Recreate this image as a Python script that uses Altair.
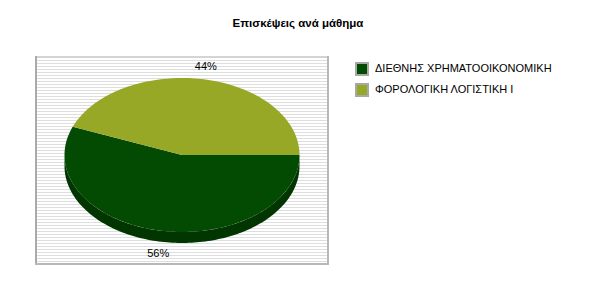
import math
import numpy as np
import pandas as pd
import altair as alt

# ---- data ----
title_text = "Επισκέψεις ανά μάθημα"
categories = ["ΔΙΕΘΝΗΣ ΧΡΗΜΑΤΟΟΙΚΟΝΟΜΙΚΗ", "ΦΟΡΟΛΟΓΙΚΗ ΛΟΓΙΣΤΙΚΗ Ι"]
visits = [56, 44]
face_colors = ["#034a03", "#97a827"]
side_colors = ["#013601", "#6e7b1c"]

# ---- layout (plot box in pixel-like units) ----
W, H = 294, 209
CX, CY = 147, 99
RX, RY = 117.5, 77
DEPTH = 11
STEPS = 240
FONT = "Liberation Sans"

total = sum(visits)
faces, sides, labels = [], [], []
cum = 0
for cat, v, sc in zip(categories, visits, side_colors):
    a0 = -2 * math.pi * cum / total
    cum += v
    a1 = -2 * math.pi * cum / total
    n = max(3, int(STEPS * v / total))
    k = 0
    faces.append(dict(cat=cat, i=k, x=CX, y=CY)); k += 1
    for t in np.linspace(a0, a1, n):
        faces.append(dict(cat=cat, i=k, x=CX + RX * math.cos(t), y=CY - RY * math.sin(t))); k += 1
    lo, hi = max(a1, -math.pi), min(a0, 0.0)
    if hi > lo:
        angs = np.linspace(hi, lo, n)
        k = 0
        for t in angs:
            sides.append(dict(cat=cat, sc=sc, i=k, x=CX + RX * math.cos(t), y=CY - RY * math.sin(t))); k += 1
        for t in angs[::-1]:
            sides.append(dict(cat=cat, sc=sc, i=k, x=CX + RX * math.cos(t), y=CY - RY * math.sin(t) + DEPTH)); k += 1
    mid = (a0 + a1) / 2
    labels.append(dict(
        cat=cat,
        text=f"{round(100 * v / total)}%",
        x=CX + 1.08 * RX * math.cos(mid),
        y=CY - 1.164 * RY * math.sin(mid) + (DEPTH if math.sin(mid) < 0 else 0),
    ))

faces_df = pd.DataFrame(faces)
sides_df = pd.DataFrame(sides)
labels_df = pd.DataFrame(labels)
stripes_df = pd.DataFrame({"y": np.arange(1.5, H, 3.0)})

xs = alt.Scale(domain=[0, W], nice=False, zero=False)
ys = alt.Scale(domain=[0, H], nice=False, zero=False, reverse=True)

stripes = alt.Chart(stripes_df).mark_rule(color="#dedede", strokeWidth=1).encode(
    y=alt.Y("y:Q", scale=ys, axis=None)
)

def border(x, x2, y, y2, color):
    return alt.Chart(stripes_df).mark_rule(color=color, strokeWidth=2).encode(
        x=alt.value(x), x2=alt.value(x2), y=alt.value(y), y2=alt.value(y2)
    )

borders = [
    border(0, W, 1, 1, "#d4d4d4"),
    border(1, 1, 0, H, "#aaaaaa"),
    border(0, W, H - 1, H - 1, "#b8b8b8"),
    border(W - 1, W - 1, 0, H, "#b8b8b8"),
]

side_layer = alt.Chart(sides_df).mark_line(filled=True, strokeWidth=0).encode(
    x=alt.X("x:Q", scale=xs, axis=None),
    y=alt.Y("y:Q", scale=ys, axis=None),
    fill=alt.Fill("sc:N", scale=None),
    detail="cat:N",
    order=alt.Order("i:Q"),
)

face_layer = alt.Chart(faces_df).mark_line(filled=True, strokeWidth=0).encode(
    x=alt.X("x:Q", scale=xs, axis=None),
    y=alt.Y("y:Q", scale=ys, axis=None),
    color=alt.Color(
        "cat:N",
        scale=alt.Scale(domain=categories, range=face_colors),
        legend=alt.Legend(
            title=None, orient="none", legendX=320, legendY=6,
            symbolType="square", symbolSize=144,
            symbolStrokeColor="#a8a8a8", symbolStrokeWidth=2, symbolOpacity=1,
            labelFont=FONT, labelFontSize=11, labelColor="#000000",
            labelOffset=6, labelLimit=400, rowPadding=1, padding=0,
        ),
    ),
    order=alt.Order("i:Q"),
)

label_layer = alt.Chart(labels_df).mark_text(
    font=FONT, fontSize=11, color="#000000", align="center", baseline="middle"
).encode(
    x=alt.X("x:Q", scale=xs, axis=None),
    y=alt.Y("y:Q", scale=ys, axis=None),
    text="text:N",
)

chart = alt.layer(stripes, *borders, side_layer, face_layer, label_layer).properties(
    width=W,
    height=H,
    padding={"left": 35, "top": 56, "right": 600 - 35 - W, "bottom": 300 - 56 - H},
    autosize=alt.AutoSizeParams(type="none"),
    title=alt.TitleParams(
        text=title_text, font=FONT, fontSize=11.5, fontWeight="bold",
        anchor="middle", frame="group", dx=116, offset=26, color="#000000",
    ),
).configure_view(stroke=None, fill="white")

chart.save("out.html", embed_options={"renderer": "svg", "actions": False})
